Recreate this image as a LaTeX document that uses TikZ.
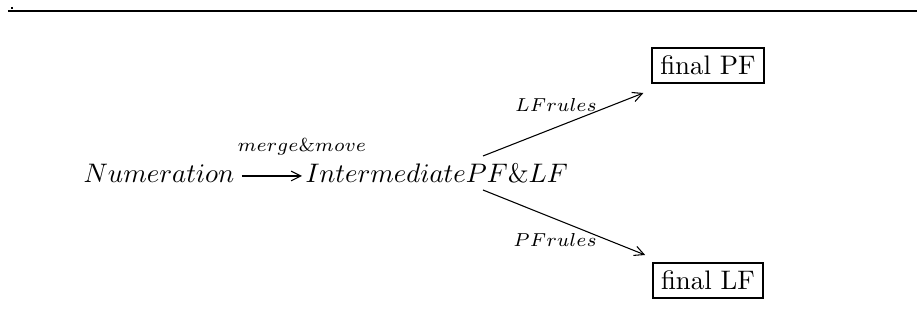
\documentclass[tikz,border=0pt]{standalone}
\usetikzlibrary{arrows.meta,calc}
\begin{document}
% one unit = one pixel of a 917x331 canvas (1pt = 2.68 units), y grows downward
\begin{tikzpicture}[x=0.37313pt,y=-0.37313pt,
  term/.style={inner sep=0pt, anchor=base west},
  lbl/.style={inner sep=0pt, font=\scriptsize},
  target/.style={draw, line width=0.65pt, inner sep=3pt},
  arr/.style={-{Straight Barb[length=3.6pt,width=3.6pt,line width=0.4pt]}, line width=0.4pt}]
\useasboundingbox (0,0) rectangle (917,331);

% rule along the top
\draw[line width=0.75pt] (8,11) -- (917,11);
\draw[line width=0.6pt] (12,7) -- (12,9.5);

% terms
\node[term] (num) at (83,183) {$Numeration$};
\node[term] (int) at (305,183) {$IntermediatePF\&LF$};

% outcomes
\node[target] (fpf) at (708,65.5) {final PF};
\node[target] (flf) at (708,280.5) {final LF};

% derivation step
\draw[arr, line width=0.75pt] ($(num.base east)+(7,-7)$) -- ($(int.base west)+(-3,-7)$);
\node[lbl, anchor=base west] (mm) at (237,152) {$merge\&move$};

% branch towards PF box
\coordinate (ua) at ($(int.base west)+(178,-27)$);
\coordinate (ub) at ($(fpf.south west)+(-8,9)$);
\draw[arr] (ua) -- (ub);
\node[lbl, anchor=base] (lfr) at (556,112) {$LFrules$};

% branch towards LF box
\coordinate (la) at ($(int.base west)+(178,7)$);
\coordinate (lb) at ($(flf.north west)+(-7,-7)$);
\draw[arr] (la) -- (lb);
\node[lbl, anchor=base] (pfr) at (555,247) {$PFrules$};
\end{tikzpicture}
\end{document}
